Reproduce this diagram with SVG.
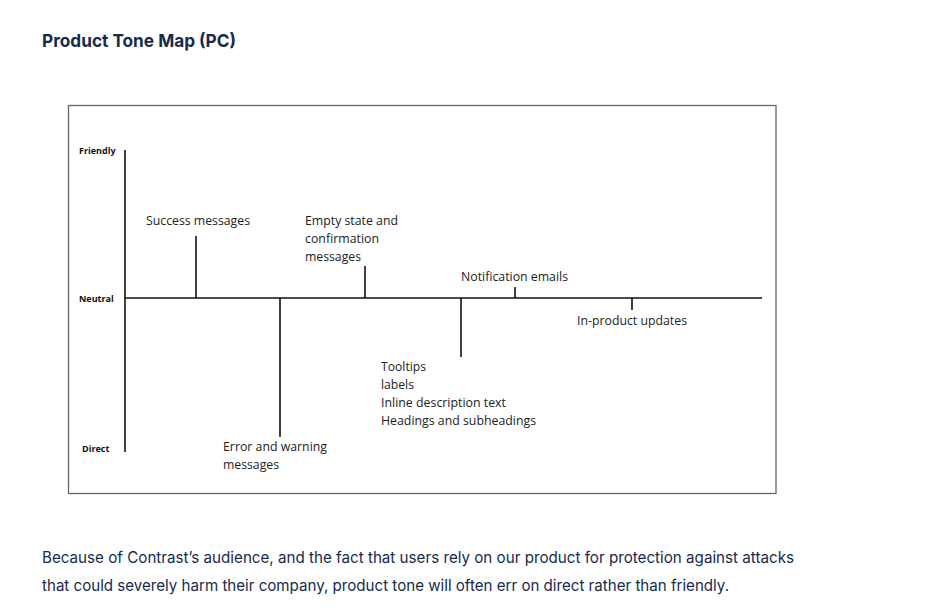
<svg xmlns="http://www.w3.org/2000/svg" width="934" height="614" viewBox="0 0 934 614">
<style>
.title{font-family:Inter,"Liberation Sans",sans-serif;font-weight:700;font-size:18px;fill:#172B4D}
.body{font-family:Inter,"Liberation Sans",sans-serif;font-size:16px;fill:#172B4D}
.axis{font-family:"Open Sans","Noto Sans",sans-serif;font-weight:700;font-size:9px;fill:#111}
.lbl{font-family:"Open Sans","Noto Sans",sans-serif;font-size:12.5px;fill:#222}
.ln{stroke:#111;stroke-width:1.6;fill:none}
</style>
<rect width="934" height="614" fill="#fff"/>
<text class="title" x="42" y="47" textLength="194" lengthAdjust="spacingAndGlyphs">Product Tone Map (PC)</text>
<rect x="68.5" y="105.5" width="707.5" height="388" fill="#fff" stroke="#666" stroke-width="1.3"/>
<g id="axes">
<text class="axis" x="79" y="154">Friendly</text>
<text class="axis" x="79" y="302">Neutral</text>
<text class="axis" x="82" y="452">Direct</text>
</g>
<g id="connectors">
<line class="ln" x1="125" y1="150" x2="125" y2="452"/>
<line class="ln" x1="125" y1="298" x2="762" y2="298"/>
<line class="ln" x1="196" y1="236" x2="196" y2="298"/>
<line class="ln" x1="365" y1="266" x2="365" y2="298"/>
<line class="ln" x1="280" y1="298" x2="280" y2="437"/>
<line class="ln" x1="461" y1="298" x2="461" y2="357"/>
<line class="ln" x1="515" y1="287" x2="515" y2="298"/>
<line class="ln" x1="632" y1="298" x2="632" y2="310"/>
</g>
<g id="success"><text class="lbl" x="146" y="225" textLength="104" lengthAdjust="spacingAndGlyphs">Success messages</text></g>
<g id="empty">
<text class="lbl" x="305" y="225" textLength="93" lengthAdjust="spacingAndGlyphs">Empty state and</text>
<text class="lbl" x="305" y="243" textLength="74" lengthAdjust="spacingAndGlyphs">confirmation</text>
<text class="lbl" x="305" y="261" textLength="56" lengthAdjust="spacingAndGlyphs">messages</text>
</g>
<g id="notification"><text class="lbl" x="461" y="281" textLength="107" lengthAdjust="spacingAndGlyphs">Notification emails</text></g>
<g id="inproduct"><text class="lbl" x="577" y="325" textLength="110" lengthAdjust="spacingAndGlyphs">In-product updates</text></g>
<g id="tooltips">
<text class="lbl" x="381" y="371" textLength="45" lengthAdjust="spacingAndGlyphs">Tooltips</text>
<text class="lbl" x="381" y="389" textLength="33" lengthAdjust="spacingAndGlyphs">labels</text>
<text class="lbl" x="381" y="407" textLength="125" lengthAdjust="spacingAndGlyphs">Inline description text</text>
<text class="lbl" x="381" y="425" textLength="155" lengthAdjust="spacingAndGlyphs">Headings and subheadings</text>
</g>
<g id="error">
<text class="lbl" x="223" y="451" textLength="104" lengthAdjust="spacingAndGlyphs">Error and warning</text>
<text class="lbl" x="223" y="469" textLength="56" lengthAdjust="spacingAndGlyphs">messages</text>
</g>
<text class="body" x="42" y="563" textLength="752" lengthAdjust="spacingAndGlyphs">Because of Contrast’s audience, and the fact that users rely on our product for protection against attacks</text>
<text class="body" x="42" y="591" textLength="687" lengthAdjust="spacingAndGlyphs">that could severely harm their company, product tone will often err on direct rather than friendly.</text>
</svg>
